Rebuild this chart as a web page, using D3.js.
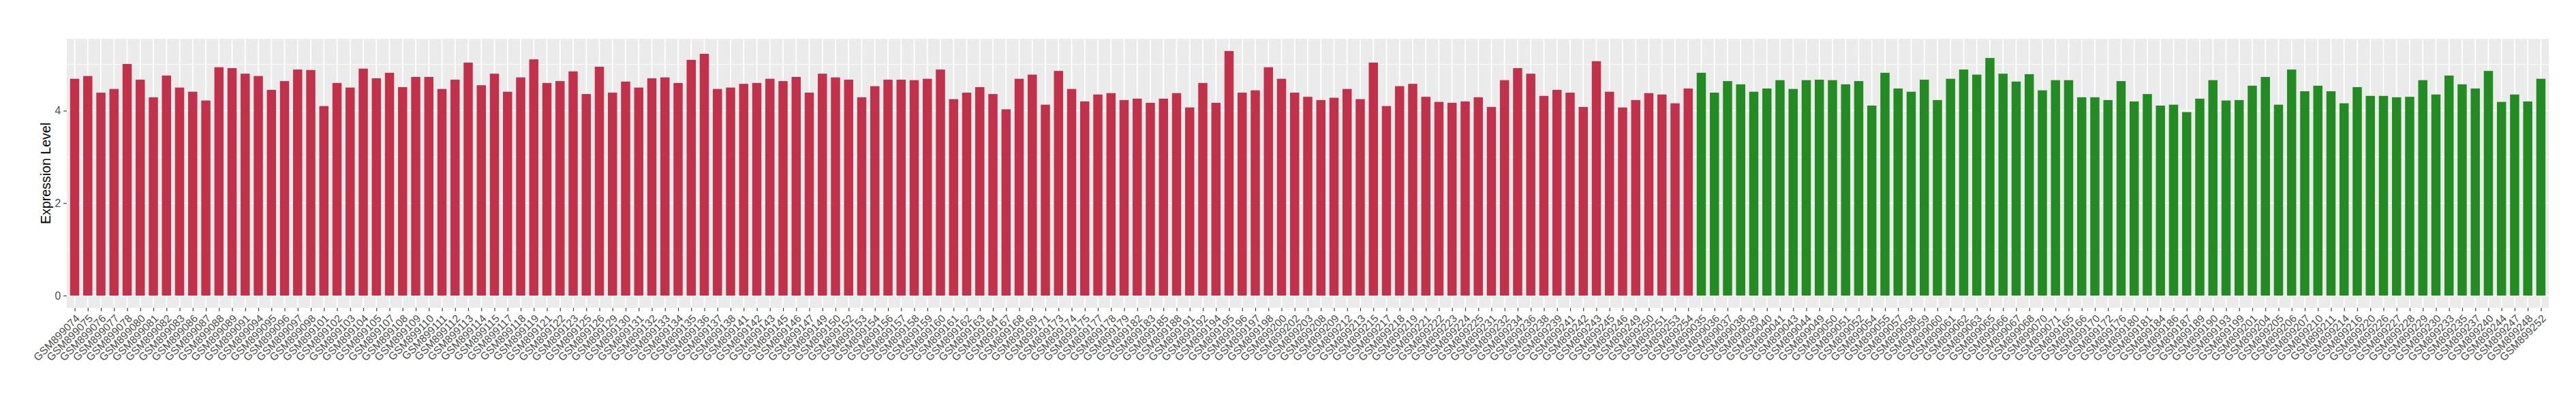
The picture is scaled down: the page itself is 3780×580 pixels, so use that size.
<!DOCTYPE html>
<html>
<head>
<meta charset="utf-8">
<script src="https://cdn.jsdelivr.net/npm/d3@7/dist/d3.min.js"></script>
<style>
body { margin: 0; background: #fff; }
text { font-family: "Liberation Sans", Arial, sans-serif; }
</style>
</head>
<body>
<div id="chart"></div>
<script>
'use strict';

// sample ids (GSM numbers) and expression values
var redSamples = [899074, 899075, 899076, 899077, 899078, 899080, 899081, 899082, 899083, 899086,
  899087, 899088, 899089, 899091, 899094, 899095, 899096, 899097, 899098, 899101,
  899102, 899103, 899104, 899105, 899107, 899108, 899109, 899110, 899111, 899112,
  899113, 899114, 899115, 899117, 899118, 899119, 899121, 899122, 899123, 899125,
  899126, 899129, 899130, 899131, 899132, 899133, 899134, 899135, 899136, 899137,
  899138, 899141, 899142, 899143, 899145, 899146, 899147, 899149, 899150, 899152,
  899153, 899154, 899156, 899157, 899158, 899159, 899160, 899161, 899162, 899163,
  899164, 899167, 899168, 899169, 899171, 899173, 899174, 899175, 899177, 899178,
  899179, 899182, 899183, 899185, 899188, 899191, 899192, 899194, 899195, 899196,
  899197, 899198, 899200, 899202, 899203, 899208, 899209, 899212, 899213, 899215,
  899217, 899218, 899219, 899221, 899222, 899223, 899224, 899225, 899231, 899232,
  899234, 899236, 899238, 899239, 899241, 899242, 899243, 899245, 899246, 899249,
  899250, 899251, 899253, 899254];
var redValues = [4.69, 4.75, 4.39, 4.47, 5.01, 4.67, 4.29, 4.76, 4.50, 4.41,
  4.22, 4.94, 4.92, 4.80, 4.75, 4.45, 4.64, 4.89, 4.88, 4.10,
  4.60, 4.50, 4.91, 4.70, 4.82, 4.51, 4.73, 4.73, 4.47, 4.67,
  5.04, 4.55, 4.80, 4.41, 4.72, 5.11, 4.60, 4.64, 4.85, 4.36,
  4.95, 4.39, 4.63, 4.50, 4.70, 4.72, 4.60, 5.10, 5.23, 4.47,
  4.50, 4.58, 4.60, 4.69, 4.64, 4.73, 4.39, 4.80, 4.72, 4.67,
  4.29, 4.53, 4.67, 4.67, 4.66, 4.69, 4.89, 4.25, 4.39, 4.51,
  4.36, 4.03, 4.69, 4.78, 4.13, 4.86, 4.47, 4.20, 4.35, 4.38,
  4.23, 4.26, 4.17, 4.26, 4.38, 4.07, 4.60, 4.17, 5.29, 4.39,
  4.44, 4.94, 4.69, 4.39, 4.30, 4.23, 4.28, 4.47, 4.25, 5.04,
  4.10, 4.53, 4.58, 4.30, 4.19, 4.17, 4.20, 4.29, 4.08, 4.66,
  4.92, 4.80, 4.32, 4.45, 4.39, 4.08, 5.07, 4.41, 4.07, 4.23,
  4.38, 4.35, 4.16, 4.48];

var greenSamples = [899035, 899036, 899037, 899038, 899039, 899040, 899041, 899043, 899044, 899049,
  899050, 899051, 899052, 899054, 899055, 899057, 899058, 899059, 899060, 899061,
  899062, 899063, 899065, 899066, 899067, 899068, 899070, 899071, 899165, 899166,
  899170, 899172, 899176, 899180, 899181, 899184, 899186, 899187, 899189, 899190,
  899193, 899199, 899201, 899204, 899205, 899206, 899207, 899210, 899211, 899214,
  899216, 899220, 899226, 899227, 899228, 899229, 899230, 899233, 899235, 899237,
  899240, 899244, 899247, 899248, 899252];
var greenValues = [4.82, 4.39, 4.64, 4.57, 4.41, 4.48, 4.66, 4.47, 4.66, 4.67,
  4.66, 4.57, 4.64, 4.11, 4.82, 4.48, 4.41, 4.67, 4.23, 4.69,
  4.89, 4.78, 5.14, 4.80, 4.63, 4.79, 4.44, 4.66, 4.66, 4.29,
  4.29, 4.23, 4.64, 4.20, 4.36, 4.11, 4.13, 3.97, 4.26, 4.66,
  4.22, 4.23, 4.54, 4.73, 4.13, 4.89, 4.42, 4.54, 4.42, 4.16,
  4.51, 4.32, 4.32, 4.29, 4.30, 4.66, 4.35, 4.76, 4.57, 4.48,
  4.86, 4.19, 4.35, 4.20, 4.69];

var yTicks = [0, 2, 4];
var yMinor = [1, 3, 5];
var groupColors = { red: '#C23149', green: '#228B22' };

var data = [];
redSamples.forEach(function(s, i) { data.push({ id: 'GSM' + s, value: redValues[i], group: 'red' }); });
greenSamples.forEach(function(s, i) { data.push({ id: 'GSM' + s, value: greenValues[i], group: 'green' }); });

var width = 3780;
var height = 580;
var margin = { top: 57, right: 40, bottom: 128, left: 98 };
var pw = width - margin.left - margin.right;
var ph = height - margin.top - margin.bottom;

var svg = d3.select('#chart')
  .append('svg')
  .attr('width', width)
  .attr('height', height);

var g = svg.append('g')
  .attr('transform', 'translate(' + margin.left + ',' + margin.top + ')');

var x = d3.scalePoint()
  .domain(data.map(function(d) { return d.id; }))
  .range([0, pw])
  .padding(0.6);
var barW = x.step() * 0.7;

var ymax = d3.max(data, function(d) { return d.value; });
var y = d3.scaleLinear()
  .domain([-0.05 * ymax, ymax * 1.05])
  .range([ph, 0]);

// panel
g.append('rect')
  .attr('width', pw)
  .attr('height', ph)
  .attr('fill', '#EBEBEB');

g.selectAll('.minor')
  .data(yMinor)
  .enter()
  .append('line')
  .attr('x1', 0).attr('x2', pw)
  .attr('y1', function(d) { return y(d); })
  .attr('y2', function(d) { return y(d); })
  .attr('stroke', '#fff')
  .attr('stroke-width', 0.9);

g.selectAll('.hmajor')
  .data(yTicks)
  .enter()
  .append('line')
  .attr('x1', 0).attr('x2', pw)
  .attr('y1', function(d) { return y(d); })
  .attr('y2', function(d) { return y(d); })
  .attr('stroke', '#fff')
  .attr('stroke-width', 1.8);

g.selectAll('.vmajor')
  .data(data)
  .enter()
  .append('line')
  .attr('x1', function(d) { return x(d.id); })
  .attr('x2', function(d) { return x(d.id); })
  .attr('y1', 0).attr('y2', ph)
  .attr('stroke', '#fff')
  .attr('stroke-width', 1.8);

// bars
g.selectAll('.bar')
  .data(data)
  .enter()
  .append('rect')
  .attr('x', function(d) { return x(d.id) - barW / 2; })
  .attr('width', barW)
  .attr('y', function(d) { return y(d.value); })
  .attr('height', function(d) { return y(0) - y(d.value); })
  .attr('fill', function(d) { return groupColors[d.group]; });

// axes
var yAxis = g.append('g')
  .call(d3.axisLeft(y).tickValues(yTicks).tickSize(4.9).tickPadding(3.9).tickFormat(d3.format('d')));
yAxis.select('.domain').remove();
yAxis.selectAll('line').attr('stroke', '#333333').attr('stroke-width', 1.1);
yAxis.selectAll('text')
  .attr('fill', '#4D4D4D')
  .style('font-size', '15.7px');

var xAxis = g.append('g')
  .attr('transform', 'translate(0,' + ph + ')')
  .call(d3.axisBottom(x).tickSize(4.9).tickPadding(3.9));
xAxis.select('.domain').remove();
xAxis.selectAll('line').attr('stroke', '#333333').attr('stroke-width', 1.1);
xAxis.selectAll('text')
  .attr('fill', '#4D4D4D')
  .style('font-size', '15.7px')
  .attr('text-anchor', 'end')
  .attr('dy', '0.71em')
  .attr('transform', function() {
    return 'rotate(-45,0,' + d3.select(this).attr('y') + ')';
  });

svg.append('text')
  .attr('transform', 'translate(73.6,' + (margin.top + ph / 2) + ') rotate(-90)')
  .attr('text-anchor', 'middle')
  .style('font-size', '19.6px')
  .attr('fill', '#000')
  .text('Expression Level');
</script>
</body>
</html>
